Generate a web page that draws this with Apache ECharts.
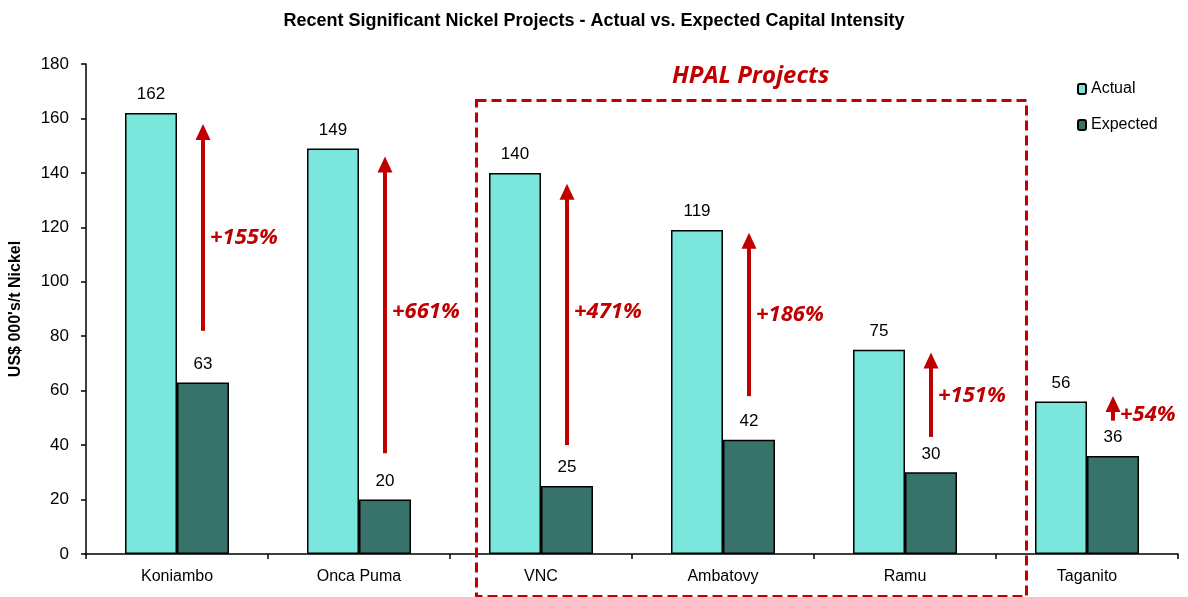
<!DOCTYPE html>
<html>
<head>
<meta charset="utf-8">
<script src="https://cdn.jsdelivr.net/npm/echarts@6/dist/echarts.min.js"></script>
<style>
  html, body { margin: 0; padding: 0; background: #fff; }
  #chart { width: 1188px; height: 597px; }
</style>
</head>
<body>
<div id="chart"></div>
<script>
const projects = ["Koniambo", "Onca Puma", "VNC", "Ambatovy", "Ramu", "Taganito"];
const actual = [162, 149, 140, 119, 75, 56];
const expected = [63, 20, 25, 42, 30, 36];

// overrun arrows: start/end value on the axis, label position and text
const arrowFrom = [82, 37, 40, 58, 43, 49];
const arrowTo = [158, 146, 136, 118, 74, 58];
const arrowLabelAt = [116, 89, 89, 88, 58, 51];
const arrowText = ["+155%", "+661%", "+471%", "+186%", "+151%", "+54%"];

const RED = "#C00000";
const BAR_W = 52;

const chart = echarts.init(document.getElementById("chart"));

const arrowData = projects.map((p, i) => [i, arrowFrom[i], arrowTo[i], arrowLabelAt[i], arrowText[i]]);

function renderArrow(params, api) {
  const idx = api.value(0);
  const bottom = api.coord([idx, api.value(1)]);
  const top = api.coord([idx, api.value(2)]);
  const labelPt = api.coord([idx, api.value(3)]);
  const x = bottom[0] + BAR_W / 2;
  const headH = 16, headW = 15, shaft = 4;
  return {
    type: "group",
    children: [
      {
        type: "rect",
        shape: { x: x - shaft / 2, y: top[1] + headH - 1, width: shaft, height: bottom[1] - top[1] - headH + 1 },
        style: { fill: RED }
      },
      {
        type: "polygon",
        shape: { points: [[x, top[1]], [x - headW / 2, top[1] + headH], [x + headW / 2, top[1] + headH]] },
        style: { fill: RED }
      },
      {
        type: "text",
        x: x + 7,
        y: labelPt[1],
        style: {
          text: arrowText[idx],
          fill: RED,
          font: "italic bold 22px 'Open Sans', sans-serif",
          verticalAlign: "middle",
          align: "left"
        }
      }
    ]
  };
}

const option = {
  backgroundColor: "#fff",
  animation: false,
  title: {
    text: "Recent Significant Nickel Projects - Actual vs. Expected Capital Intensity",
    left: "center",
    top: 7,
    textStyle: { fontFamily: "Liberation Sans", fontWeight: "bold", fontSize: 18, color: "#000" }
  },
  legend: {
    orient: "vertical",
    left: 1072,
    top: 76,
    itemWidth: 8,
    itemHeight: 10,
    itemGap: 20,
    data: ["Actual", "Expected"],
    textStyle: { fontFamily: "Liberation Sans", fontSize: 16, color: "#000", padding: [0, 0, 0, 0] }
  },
  grid: { left: 85, right: 10, top: 64, bottom: 43 },
  xAxis: {
    type: "category",
    data: projects,
    axisLine: { lineStyle: { color: "#000", width: 1.5 } },
    axisTick: { show: true, length: 5, lineStyle: { color: "#000", width: 1.5 } },
    axisLabel: { color: "#000", fontFamily: "Liberation Sans", fontSize: 16, margin: 15 }
  },
  yAxis: {
    type: "value",
    min: 0,
    max: 180,
    interval: 20,
    name: "US$ 000's/t Nickel",
    nameLocation: "middle",
    nameRotate: 90,
    nameGap: 62,
    nameTextStyle: { fontFamily: "Liberation Sans", fontWeight: "bold", fontSize: 16, color: "#000" },
    axisLine: { show: true, lineStyle: { color: "#000", width: 1.5 } },
    axisTick: { show: true, length: 5, lineStyle: { color: "#000", width: 1.5 } },
    axisLabel: { color: "#000", fontFamily: "Liberation Sans", fontSize: 17, margin: 17 },
    splitLine: { show: false }
  },
  series: [
    {
      name: "Actual",
      type: "bar",
      data: actual,
      barWidth: BAR_W,
      barGap: "0%",
      itemStyle: { color: "#7AE6DC", borderColor: "#000", borderWidth: 1.5 },
      label: { show: true, position: "top", distance: 10, color: "#000", fontFamily: "Liberation Sans", fontSize: 17 }
    },
    {
      name: "Expected",
      type: "bar",
      data: expected,
      barWidth: BAR_W,
      itemStyle: { color: "#38736B", borderColor: "#000", borderWidth: 1.5 },
      label: { show: true, position: "top", distance: 10, color: "#000", fontFamily: "Liberation Sans", fontSize: 17 }
    },
    {
      name: "Overrun",
      type: "custom",
      renderItem: renderArrow,
      data: arrowData,
      encode: { x: 0, y: [1, 2] },
      clip: false,
      z: 5
    }
  ],
  graphic: [
    {
      type: "rect",
      left: 474,
      top: 98,
      shape: { width: 550, height: 496 },
      style: { fill: "none", stroke: RED, lineWidth: 3, lineDash: [10, 5] },
      z: 10
    },
    {
      type: "text",
      left: 672,
      top: 64,
      style: { text: "HPAL Projects", fill: RED, font: "italic bold 24px 'Open Sans', sans-serif" },
      z: 10
    }
  ]
};

chart.setOption(option);
</script>
</body>
</html>
